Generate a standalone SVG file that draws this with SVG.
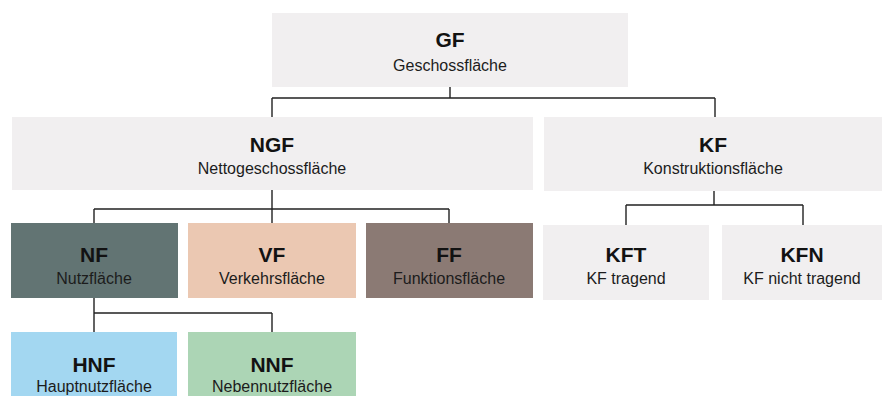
<svg xmlns="http://www.w3.org/2000/svg" width="882" height="396" viewBox="0 0 882 396">
<style>
.t{font-family:"Liberation Sans",Arial,sans-serif;font-weight:bold;font-size:21px;fill:#121212;text-anchor:middle}
.s{font-family:"Liberation Sans",Arial,sans-serif;font-size:16px;fill:#1c1c1c;text-anchor:middle}
.g{fill:#f1eff0}
.c{fill:none;stroke:#222;stroke-width:1.4}
</style>
<rect width="882" height="396" fill="#ffffff"/>
<g id="connectors">
<path class="c" d="M450 87V98M272 98H715M272 98V117M715 98V117"/>
<path class="c" d="M272 190V209M94 209H449M94 209V223M272 209V223M449 209V223"/>
<path class="c" d="M714 191V205M626 205H803M626 205V225M803 205V225"/>
<path class="c" d="M94 298V313M94 313H272M94 313V332M272 313V332"/>
</g>
<g id="GF"><rect class="g" x="272" y="13" width="356" height="74"/><text class="t" x="450" y="47">GF</text><text class="s" x="450" y="71">Geschossfläche</text></g>
<g id="NGF"><rect class="g" x="12" y="117" width="521" height="73"/><text class="t" x="272" y="152">NGF</text><text class="s" x="272" y="174">Nettogeschossfläche</text></g>
<g id="KF"><rect class="g" x="544" y="117" width="338" height="74"/><text class="t" x="713" y="152">KF</text><text class="s" x="713" y="174">Konstruktionsfläche</text></g>
<g id="NF"><rect x="11" y="223" width="167" height="75" fill="#627473"/><text class="t" x="94" y="262">NF</text><text class="s" x="94" y="284">Nutzfläche</text></g>
<g id="VF"><rect x="188" y="223" width="168" height="75" fill="#ebc8b2"/><text class="t" x="272" y="262">VF</text><text class="s" x="272" y="284">Verkehrsfläche</text></g>
<g id="FF"><rect x="366" y="223" width="167" height="75" fill="#8b7a74"/><text class="t" x="449" y="262">FF</text><text class="s" x="449" y="284">Funktionsfläche</text></g>
<g id="KFT"><rect class="g" x="543" y="225" width="166" height="75"/><text class="t" x="626" y="262">KFT</text><text class="s" x="626" y="284">KF tragend</text></g>
<g id="KFN"><rect class="g" x="722" y="225" width="160" height="75"/><text class="t" x="802" y="262">KFN</text><text class="s" x="802" y="284">KF nicht tragend</text></g>
<g id="HNF"><rect x="11" y="332" width="166" height="64" fill="#a3d7f1"/><text class="t" x="94" y="372">HNF</text><text class="s" x="94" y="392">Hauptnutzfläche</text></g>
<g id="NNF"><rect x="188" y="332" width="168" height="64" fill="#acd5b5"/><text class="t" x="272" y="372">NNF</text><text class="s" x="272" y="392">Nebennutzfläche</text></g>
</svg>
